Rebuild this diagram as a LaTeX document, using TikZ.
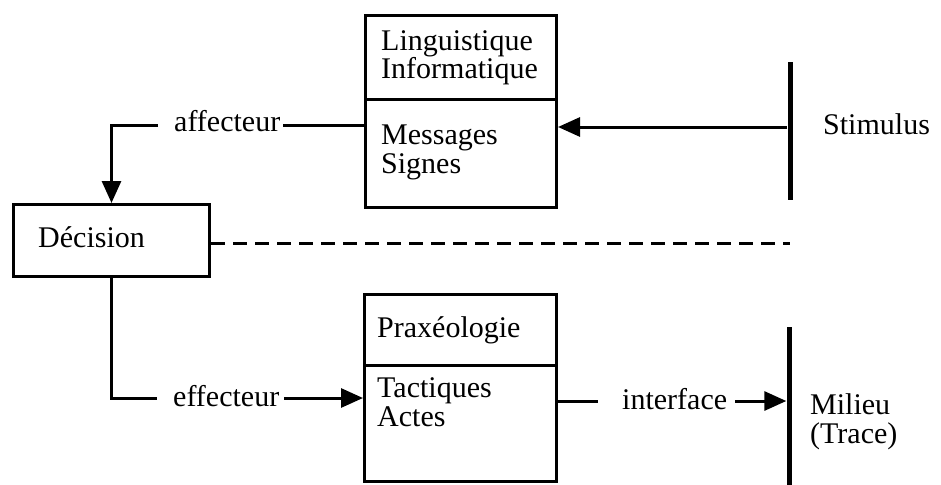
\documentclass[tikz,border=0pt]{standalone}
\usepackage{fontspec}
\setmainfont{Liberation Serif}
\usetikzlibrary{arrows.meta}
\begin{document}
\begin{tikzpicture}[x=1pt,y=-1pt,
  box/.style={draw, line width=3pt, inner sep=0pt, anchor=north west},
  txt/.style={anchor=base west, inner sep=0pt, align=left, font=\fontsize{30}{28.5}\selectfont},
  conn/.style={line width=3pt},
  arr/.style={conn, -{Triangle[length=22pt,width=19pt]}},
  barn/.style={fill=black, inner sep=0pt, minimum width=5pt},
]
\useasboundingbox (0,0) rectangle (941,484);
% row coordinates
\coordinate (r1) at (0,127);
\coordinate (r2) at (0,125);
\coordinate (r3) at (0,398);
\coordinate (r4) at (0,401);
\coordinate (r5) at (0,243);
\coordinate (d1) at (0,100);
\coordinate (d2) at (0,365);
% boxes
\node[box, minimum width=191pt, minimum height=192pt] (ling) at (364,14) {};
\draw[conn] (ling.west |- d1) -- (ling.east |- d1);
\node[txt] (lingT) at (381,79) {Linguistique\\Informatique};
\node[txt] (msgT) at (381,173) {Messages\\Signes};

\node[box, minimum width=196pt, minimum height=72pt] (dec) at (12,203) {};
\node[txt] (decT) at (38,247) {Décision};

\node[box, minimum width=192pt, minimum height=187pt] (prax) at (363,293) {};
\draw[conn] (prax.west |- d2) -- (prax.east |- d2);
\node[txt] (praxT) at (377,337) {Praxéologie};
\node[txt] (tacT) at (377,426) {Tactiques\\Actes};

% bars
\node[barn, minimum height=138pt] (stimbar) at (790,131) {};
\node[barn, minimum height=160pt] (milbar) at (789,407) {};
\node[txt] (stim) at (823,135) {Stimulus};
\node[txt] (mil) at (810,443) {Milieu\\(Trace)};

% labels
\node[txt] (aff) at (174,131) {affecteur};
\node[txt] (eff) at (173,406) {effecteur};
\node[txt] (intf) at (622,409) {interface};

% connectors
\draw[arr] (stimbar.west |- r1) -- (ling.east |- r1);
\draw[conn] (ling.west |- r2) -- ([xshift=3pt]aff.east |- r2);
\draw[arr] ([xshift=-16pt]aff.west |- r2) -| (dec.north);
\draw[conn] (dec.south) |- ([xshift=-16pt]eff.west |- r3);
\draw[arr] ([xshift=5pt]eff.east |- r3) -- (prax.west |- r3);
\draw[conn] (prax.east |- r4) -- ([xshift=-24pt]intf.west |- r4);
\draw[arr] ([xshift=8pt]intf.east |- r4) -- (milbar.west |- r4);
\coordinate (dashend) at (790,243);
\draw[conn, dash pattern=on 14pt off 8pt] (dec.east |- r5) -- (dashend);
\end{tikzpicture}
\end{document}
